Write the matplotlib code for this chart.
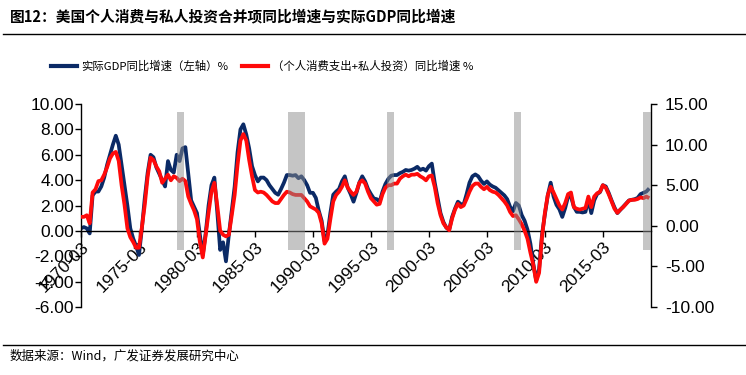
import matplotlib
matplotlib.use("Agg")
import matplotlib.pyplot as plt
from matplotlib.lines import Line2D
from matplotlib.patches import Rectangle
import numpy as np
import pandas as pd

plt.rcParams['font.family'] = ['Liberation Sans', 'Noto Sans CJK SC', 'DejaVu Sans']

# ---------------- data ----------------
start_quarter = '1970Q1'

# 实际GDP同比增速 (%), left axis, quarterly from 1970Q1
gdp_yoy = [
    0.2, 0.3, 0.2, -0.2, 2.8, 3.1, 3.1, 3.5, 4.2, 5.2,
    6.0, 6.8, 7.5, 6.8, 5.2, 3.6, 2.0, 0.2, -0.6, -1.2,
    -1.9, 0.2, 2.6, 4.6, 6.0, 5.8, 5.0, 4.5, 4.0, 3.5,
    5.5, 4.8, 4.6, 6.0, 5.5, 6.5, 6.6, 4.5, 2.4, 1.9,
    1.4, -0.3, -1.9, -0.2, 2.0, 3.6, 4.2, 1.5, -1.5, -0.9,
    -2.4, -0.3, 1.6, 3.5, 6.2, 8.0, 8.4, 7.6, 6.5, 5.1,
    4.4, 3.9, 4.2, 4.2, 4.0, 3.6, 3.3, 3.0, 2.85, 3.3,
    3.8, 4.4, 4.4, 4.35, 4.4, 4.15, 4.3, 4.0, 3.6, 3.0,
    3.0, 2.6, 1.6, 0.8, -0.8, -0.3, 1.4, 2.85, 3.1, 3.3,
    3.9, 4.3, 3.4, 2.9, 2.3, 3.0, 3.8, 4.3, 3.9, 3.3,
    2.9, 2.55, 2.5, 2.3, 3.1, 3.7, 4.1, 4.35, 4.4, 4.4,
    4.55, 4.65, 4.8, 4.75, 4.8, 4.9, 5.05, 4.8, 4.9, 4.75,
    5.1, 5.3, 3.8, 2.6, 1.4, 0.7, 0.25, 0.1, 1.1, 1.75,
    2.3, 2.1, 2.1, 2.9, 3.8, 4.3, 4.45, 4.3, 3.95, 3.7,
    3.9, 3.65, 3.5, 3.4, 3.2, 3.0, 2.8, 2.5, 1.9, 1.55,
    2.2, 2.0, 1.25, 0.8, 0.1, -1.0, -2.6, -3.9, -3.0, -0.3,
    1.3, 2.8, 3.8, 2.7, 2.05, 1.7, 1.1, 1.8, 2.7, 2.7,
    1.9, 1.5, 1.5, 1.45, 1.5, 2.5, 1.4, 2.4, 2.9, 3.05,
    3.6, 3.5, 3.0, 2.4, 1.85, 1.4, 1.65, 1.9, 2.15, 2.4,
    2.45, 2.5, 2.6, 2.9, 3.0, 3.1, 3.35,
]

# （个人消费支出+私人投资）同比增速 (%), right axis, quarterly from 1970Q1
pce_inv_yoy = [
    1.1, 1.1, 1.3, 0.3, 4.1, 4.5, 5.5, 5.6, 6.3, 7.2,
    8.3, 8.9, 9.1, 8.0, 5.0, 2.6, -0.3, -1.4, -2.0, -2.7,
    -2.7, -0.2, 2.6, 6.1, 8.4, 8.1, 7.3, 6.7, 5.3, 5.8,
    6.3, 5.6, 6.1, 5.9, 5.5, 5.8, 5.5, 3.6, 2.7, 1.9,
    0.8, -2.0, -3.9, -1.1, 1.6, 4.2, 5.3, 2.5, -0.6, -1.1,
    -1.3, -1.1, 1.3, 3.8, 7.5, 10.5, 11.3, 10.5, 8.1, 6.1,
    4.4, 4.1, 4.2, 4.1, 3.8, 3.4, 3.0, 2.8, 2.8, 3.3,
    3.8, 4.2, 4.1, 3.9, 3.8, 3.8, 3.8, 3.4, 3.0, 2.4,
    2.2, 2.0, 1.6, 0.3, -2.2, -1.6, 0.8, 3.0, 3.8, 4.2,
    4.8, 5.6, 4.7, 4.2, 3.8, 4.2, 5.3, 5.6, 5.2, 4.2,
    3.4, 3.0, 2.6, 2.7, 3.9, 4.7, 5.0, 5.0, 5.2, 5.2,
    5.8, 6.1, 6.3, 6.1, 6.3, 6.3, 6.4, 6.1, 5.9, 5.6,
    6.1, 6.2, 4.8, 2.8, 1.3, 0.3, -0.2, -0.55, 0.9, 2.0,
    2.7, 2.3, 2.5, 3.3, 4.2, 4.9, 5.2, 5.2, 4.8, 4.5,
    4.8, 4.4, 4.2, 4.1, 3.8, 3.4, 3.0, 2.5, 1.7, 1.2,
    1.3, 0.8, 0.2, -0.6, -1.6, -3.3, -4.8, -6.9, -5.8, -1.4,
    1.6, 3.8, 4.8, 4.1, 3.3, 2.5, 2.0, 2.8, 3.9, 4.1,
    2.3, 2.1, 2.0, 2.1, 2.2, 3.6, 2.3, 3.6, 4.0, 4.2,
    5.0, 4.7, 3.9, 3.0, 2.1, 1.6, 2.0, 2.3, 2.7, 3.1,
    3.2, 3.2, 3.3, 3.5, 3.4, 3.6, 3.4,
]

# shaded periods (year fractions) and their vertical extent on the left axis
shade_start = [1978.25, 1987.85, 1996.4, 2007.35, 2018.45]
shade_end = [1978.85, 1989.3, 1997.0, 2007.9, 2019.2]
shade_low, shade_high = -1.5, 9.35

tick_years = [1970, 1975, 1980, 1985, 1990, 1995, 2000, 2005, 2010, 2015]
tick_labels = [f"{y}-03" for y in tick_years]

left_ticks = [-6, -4, -2, 0, 2, 4, 6, 8, 10]
right_ticks = [-10, -5, 0, 5, 10, 15]

title = "图12：美国个人消费与私人投资合并项同比增速与实际GDP同比增速"
legend_labels = ["实际GDP同比增速（左轴）%", "（个人消费支出+私人投资）同比增速 %"]
source = "数据来源：Wind，广发证券发展研究中心"

# ---------------- figure ----------------
W, H = 746, 375
fig = plt.figure(figsize=(W / 100, H / 100), dpi=100)
ax = fig.add_axes([81 / W, 1 - 307 / H, 570 / W, 203 / H])
ax2 = ax.twinx()

q = pd.period_range(start_quarter, periods=len(gdp_yoy), freq='Q')
x = q.year + (q.quarter - 1) / 4.0

navy = '#0b2a66'
red = '#ff0a0a'

ax.plot(x, gdp_yoy, color=navy, lw=2.7, solid_capstyle='butt', zorder=2)
ax2.plot(x, pce_inv_yoy, color=red, lw=2.7, solid_capstyle='butt', zorder=2)

for s, e in zip(shade_start, shade_end):
    ax2.add_patch(Rectangle((s, shade_low), e - s, shade_high - shade_low,
                            transform=ax.transData, facecolor='#8c8c8c',
                            edgecolor='none', alpha=0.5, zorder=3))

ax.set_xlim(1970.0, 2019.15)
ax.set_ylim(-6, 10)
ax2.set_ylim(-10, 15)

for a in (ax, ax2):
    a.spines['top'].set_visible(False)
    a.set_facecolor('none')
ax.spines['right'].set_visible(False)
ax2.spines['left'].set_visible(False)
ax2.spines['bottom'].set_visible(False)
ax.spines['bottom'].set_position(('data', 0))
for sp in (ax.spines['left'], ax.spines['bottom'], ax2.spines['right']):
    sp.set_linewidth(1.0)
    sp.set_color('black')

ax.tick_params(axis='y', direction='out', length=4, width=1, pad=1)
ax.tick_params(axis='x', direction='out', length=4, width=1, pad=2)
ax2.tick_params(axis='y', direction='out', length=4, width=1, pad=6)

tick_font = dict(family='Liberation Sans', size=12.5)

ax.set_yticks(left_ticks)
ax.set_yticklabels([f"{v:.2f}" for v in left_ticks], **tick_font)
ax2.set_yticks(right_ticks)
ax2.set_yticklabels([f"{v:.2f}" for v in right_ticks], **tick_font)

ax.set_xticks(tick_years)
ax.set_xticklabels(tick_labels, **tick_font)
for lab in ax.get_xticklabels():
    lab.set_rotation(45)
    lab.set_ha('right')
    lab.set_va('top')
    lab.set_rotation_mode('anchor')

# legend
handles = [Line2D([], [], color=navy, lw=3), Line2D([], [], color=red, lw=3)]
fig.legend(handles, legend_labels, loc='center', bbox_to_anchor=(262 / W, 1 - 66 / H),
           ncol=2, frameon=False, handlelength=2.3, handletextpad=0.35,
           columnspacing=1.2, prop=dict(family=['Noto Sans CJK SC'], size=8.2))

# title and rules
fig.text(10 / W, 1 - 16 / H, title, fontsize=10.6, fontweight='bold', va='center', ha='left',
         family=['Noto Sans CJK SC', 'DejaVu Sans'])
fig.add_artist(Line2D([3 / W, 745 / W], [1 - 33.5 / H] * 2, color='black', lw=1))
fig.add_artist(Line2D([3 / W, 745 / W], [1 - 345 / H] * 2, color='black', lw=1))
fig.text(10 / W, 1 - 356 / H, source, fontsize=9, va='center', ha='left',
         family=['Noto Sans CJK SC', 'DejaVu Sans'])

fig.savefig('out.png', dpi=100)
